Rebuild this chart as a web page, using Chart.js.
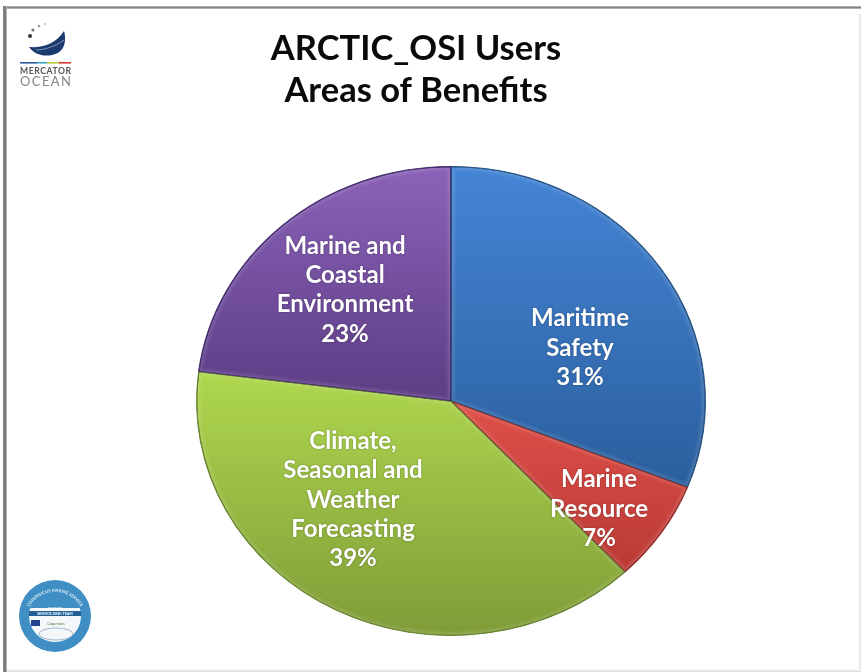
<!DOCTYPE html>
<html>
<head>
<meta charset="utf-8">
<title>ARCTIC_OSI Users</title>
<script src="https://cdn.jsdelivr.net/npm/chart.js@4"></script>
<style>
  html, body { margin: 0; padding: 0; background: #fff; overflow: hidden; }
  #wrap { position: relative; width: 861px; height: 672px; }
  #chart { position: absolute; left: 0; top: 0; }
  /* slide frame, heavier on the top and left like the screenshot */
  .edge { position: absolute; }
  #edgeTop { left: 3px; right: 0; top: 6px; height: 3px; background: linear-gradient(#c4c4c4, #7f7f7f 55%, #cfcfcf); }
  #edgeLeft { left: 3px; top: 6px; bottom: 0; width: 4px; background: linear-gradient(90deg, #8a8a8a, #777 60%, #ccc); }
  #edgeRight { right: 0; top: 14px; bottom: 2px; width: 3px; background: linear-gradient(90deg, #fff, #ddd); }
  #edgeBottom { left: 7px; right: 0; bottom: 0; height: 3px; background: linear-gradient(#fff, #d8d8d8); }
  svg.logo { position: absolute; left: 0; top: 0; filter: blur(0.5px); }
</style>
</head>
<body>
<div id="wrap">
  <canvas id="chart" width="861" height="672"></canvas>
  <div class="edge" id="edgeTop"></div>
  <div class="edge" id="edgeLeft"></div>
  <div class="edge" id="edgeRight"></div>
  <div class="edge" id="edgeBottom"></div>
  <svg class="logo" width="120" height="672" font-family="Lato, sans-serif">
    <!-- Mercator Ocean mark -->
    <circle cx="30" cy="36" r="2" fill="#333"/>
    <circle cx="33" cy="30" r="1.6" fill="#777"/>
    <circle cx="39" cy="26" r="1.3" fill="#999"/>
    <circle cx="45" cy="24" r="1" fill="#bbb"/>
    <path d="M29 47 C42 48 56 44 64 31 C67 42 64 53 52 55 C43 57 34 54 29 47 Z" fill="#1c3a6e"/>
    <path d="M36 50 C45 50 56 46 64 40" stroke="#8fa8cc" stroke-width="0.8" fill="none"/>
    <rect x="20" y="62" width="17" height="1.6" fill="#2a5b9c"/>
    <rect x="37" y="62" width="10" height="1.6" fill="#3fa9c9"/>
    <rect x="47" y="62" width="12" height="1.6" fill="#b5c93a"/>
    <rect x="59" y="62" width="12" height="1.6" fill="#d2382f"/>
    <text x="20" y="74" font-size="8.6" font-weight="700" fill="#555" textLength="51">MERCATOR</text>
    <text x="20" y="86" font-size="13" fill="#888" textLength="51">OCEAN</text>
    <!-- service desk badge -->
    <circle cx="55" cy="616" r="36" fill="#3f8fc4"/>
    <circle cx="55" cy="616" r="26" fill="#f4f8fb"/>
    <path d="M30 608 A26 26 0 0 1 80 608 Z" fill="#3f8fc4"/>
    <rect x="29" y="611" width="52" height="5" fill="#1e5f96"/>
    <text x="55" y="610" font-size="4" fill="#fff" text-anchor="middle">CMEMS</text>
    <text x="55" y="615" font-size="3.6" font-weight="700" fill="#fff" text-anchor="middle">SERVICE DESK TEAM</text>
    <rect x="31" y="620" width="9" height="6" fill="#23408f"/>
    <text x="56" y="625" font-size="3.5" fill="#4a6b3a" text-anchor="middle">Copernicus</text>
    <ellipse cx="56" cy="634" rx="17" ry="6" fill="none" stroke="#8aa4bb" stroke-width="0.8"/>
    <path id="badgeRing" d="M26 616 A29.500 29.500 0 0 1 84 616" fill="none"/>
    <text font-size="4.2" fill="#d8ecf7" font-weight="700"><textPath href="#badgeRing" startOffset="50%" text-anchor="middle">COPERNICUS MARINE SERVICE</textPath></text>
  </svg>
</div>

<script>
// Chart data
const titleLines = ['ARCTIC_OSI Users', 'Areas of Benefits'];
const categories = ['Maritime Safety', 'Marine Resource', 'Climate, Seasonal and Weather Forecasting', 'Marine and Coastal Environment'];
const shares = [31, 7, 39, 23];
const labelLines = [
  ['Maritime', 'Safety', '31%'],
  ['Marine', 'Resource', '7%'],
  ['Climate,', 'Seasonal and', 'Weather', 'Forecasting', '39%'],
  ['Marine and', 'Coastal', 'Environment', '23%']
];

// Slice colours, top and bottom of each gradient
const topColors = ['#4585d6', '#e5524c', '#aed64e', '#8b62b8'];
const bottomColors = ['#2a5e9c', '#b93a35', '#7f9c38', '#5f3f88'];
const edgeColors = ['#23507f', '#8f2d2a', '#64802c', '#40296a'];

// Layout
const PIE_CENTER = { x: 451, y: 401 };
const PIE_STRETCH_X = 255 / 235;          // the screenshot is wider than tall
const GRADIENT_SPANS = [[0, 0.7], [0.45, 0.87], [0.45, 1], [0, 0.47]];
const LABEL_OFFSETS = [[129, -53], [148, 108], [-98, 99], [-106, -111]];
const LABEL_FONT = 'bold 24px Lato, sans-serif';
const LABEL_LINE_HEIGHT = 29.3;

function sliceGradient(ctx) {
  const chart = ctx.chart;
  const i = ctx.dataIndex;
  if (!chart.chartArea) return topColors[i];
  const { top, bottom } = chart.chartArea;
  const span = GRADIENT_SPANS[i];
  const g = chart.ctx.createLinearGradient(0, top + (bottom - top) * span[0], 0, top + (bottom - top) * span[1]);
  g.addColorStop(0, topColors[i]);
  g.addColorStop(1, bottomColors[i]);
  return g;
}

// Rebuild one slice outline from its arc element
function traceSlice(c, arc) {
  c.beginPath();
  c.moveTo(arc.x, arc.y);
  c.arc(arc.x, arc.y, arc.outerRadius, arc.startAngle, arc.endAngle);
  c.closePath();
}

// Stretch the round pie into the ellipse of the reference, add bevel and labels
const ellipsePlugin = {
  id: 'ellipsePie',
  beforeDatasetsDraw(chart) {
    const c = chart.ctx;
    const arc = chart.getDatasetMeta(0).data[0];
    c.save();
    c.translate(PIE_CENTER.x, PIE_CENTER.y);
    c.scale(PIE_STRETCH_X, 1);
    c.translate(-arc.x, -arc.y);
  },
  afterDatasetsDraw(chart) {
    const c = chart.ctx;
    const arcs = chart.getDatasetMeta(0).data;
    // soft light rim inside each slice, then the dark edge back on top
    arcs.forEach((arc, i) => {
      c.save();
      traceSlice(c, arc);
      c.clip();
      traceSlice(c, arc);
      c.strokeStyle = 'rgba(255, 255, 255, 0.05)';
      c.lineWidth = 9;
      c.stroke();
      c.strokeStyle = 'rgba(255, 255, 255, 0.07)';
      c.lineWidth = 5;
      c.stroke();
      c.strokeStyle = edgeColors[i];
      c.lineWidth = 1.5;
      c.stroke();
      c.restore();
    });
    c.restore();

    c.save();
    c.font = LABEL_FONT;
    c.fillStyle = '#fff';
    c.textAlign = 'center';
    c.textBaseline = 'middle';
    c.shadowColor = 'rgba(0, 0, 0, 0.35)';
    c.shadowBlur = 2;
    labelLines.forEach((lines, i) => {
      const cx = PIE_CENTER.x + LABEL_OFFSETS[i][0];
      const cy = PIE_CENTER.y + LABEL_OFFSETS[i][1];
      lines.forEach((line, n) => {
        c.fillText(line, cx, cy + (n - (lines.length - 1) / 2) * LABEL_LINE_HEIGHT);
      });
    });
    c.restore();
  }
};

new Chart(document.getElementById('chart'), {
  type: 'pie',
  data: {
    labels: categories,
    datasets: [{
      data: shares,
      backgroundColor: sliceGradient,
      borderColor: edgeColors,
      borderWidth: 1,
      clip: false
    }]
  },
  options: {
    responsive: false,
    animation: false,
    layout: { padding: { left: 0, right: 29, top: 0, bottom: 36 } },
    plugins: {
      legend: { display: false },
      tooltip: { enabled: false },
      title: {
        display: true,
        text: titleLines,
        color: '#0a0a0a',
        font: { family: 'Lato, sans-serif', size: 34.5, weight: 'bold', lineHeight: 1.22 },
        padding: { top: 28, bottom: 54 }
      }
    }
  },
  plugins: [ellipsePlugin]
});
</script>
</body>
</html>
